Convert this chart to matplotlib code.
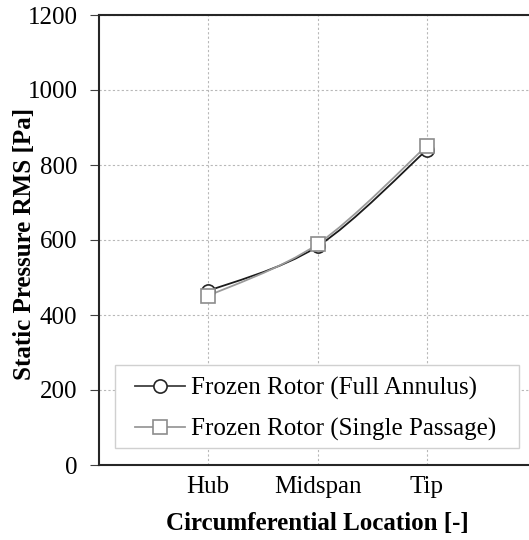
import matplotlib
matplotlib.use("Agg")
import matplotlib.pyplot as plt
from matplotlib.path import Path
from matplotlib.patches import PathPatch, Rectangle
from matplotlib.lines import Line2D
import numpy as np

categories = ["Hub", "Midspan", "Tip"]
full_annulus = [464, 583, 840]
single_passage = [451, 589, 851]
yticks = [0, 200, 400, 600, 800, 1000, 1200]
labels = ["Frozen Rotor (Full Annulus)", "Frozen Rotor (Single Passage)"]

plt.rcParams['font.family'] = ['Liberation Serif', 'DejaVu Serif']

W, H = 529, 540
fig = plt.figure(figsize=(W / 100, H / 100), dpi=100)
ax = fig.add_axes([99/W, 75/H, 437/W, 450/H])

x = np.arange(1, len(categories) + 1)


def smooth_path(xs, ys):
    pts = np.column_stack([xs, ys]).astype(float)
    verts = [pts[0]]
    codes = [Path.MOVETO]
    n = len(pts)
    for i in range(n - 1):
        p0 = pts[i - 1] if i > 0 else pts[i]
        p1 = pts[i]
        p2 = pts[i + 1]
        p3 = pts[i + 2] if i + 2 < n else pts[i + 1]
        c1 = p1 + (p2 - p0) / 6.0
        c2 = p2 - (p3 - p1) / 6.0
        verts += [c1, c2, p2]
        codes += [Path.CURVE4] * 3
    return Path(verts, codes)


styles = [
    dict(lc="#1a1a1a", hc="#404040", mk="o", mec="#262626"),
    dict(lc="#9a9a9a", hc="#9a9a9a", mk="s", mec="#8c8c8c"),
]
handles = []
for vals, st in zip([full_annulus, single_passage], styles):
    ax.add_patch(PathPatch(smooth_path(x, vals), facecolor="none", edgecolor=st["lc"],
                           linewidth=1.3, zorder=3))
    ax.plot(x, vals, linestyle="none", marker=st["mk"], markersize=9.5,
            markerfacecolor="white", markeredgecolor=st["mec"], markeredgewidth=1.2, zorder=4)
    handles.append(Line2D([], [], color=st["hc"], lw=1.3,
                          marker=st["mk"], markersize=9.5, markerfacecolor="white",
                          markeredgecolor=st["mec"], markeredgewidth=1.2))

# legend frame drawn as a figure rectangle
frame = Rectangle((115/W, (H - 448)/H), 404/W, 83/H, transform=fig.transFigure,
                  facecolor="white", edgecolor="#d0d0d0", linewidth=1.0, zorder=4.5)
ax.add_artist(frame)
frame.set_clip_on(False)

leg = ax.legend(handles, labels, loc="upper left",
                bbox_to_anchor=(135/W, (H - 377)/H), bbox_transform=fig.transFigure,
                fontsize=18, frameon=False, handlelength=2.0,
                handletextpad=0.25, borderpad=0, labelspacing=0.70, borderaxespad=0)
leg.set_zorder(5)

ax.set_xlim(0, 4)
ax.set_ylim(0, 1200)
ax.set_xticks(x)
ax.set_xticklabels(categories)
ax.set_yticks(yticks)
ax.tick_params(axis="x", length=0, labelsize=18, pad=8)
ax.tick_params(axis="y", length=6.5, direction="out", labelsize=18, color="#404040", pad=9)
ax.grid(True, linestyle=(0, (2, 2)), color="#b8b8b8", linewidth=0.8)
ax.set_axisbelow(True)
for s in ["left", "bottom", "top"]:
    ax.spines[s].set_color("#262626")
    ax.spines[s].set_linewidth(1.5)
ax.spines["right"].set_visible(False)

ax.set_xlabel("Circumferential Location [-]", fontsize=18, fontweight="bold", labelpad=10)
ax.set_ylabel("Static Pressure RMS [Pa]", fontsize=18, fontweight="bold")
ax.yaxis.set_label_coords((36 - 99) / 437, (540 - 244 - 75) / 450)

fig.savefig("out.png", dpi=100)
